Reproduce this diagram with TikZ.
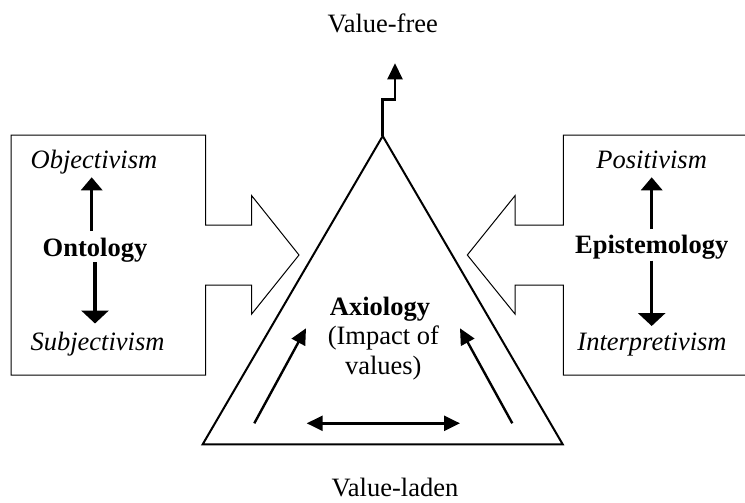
\documentclass[tikz,border=0pt]{standalone}
\usepackage{fontspec}
\setmainfont{Liberation Serif}
\usetikzlibrary{arrows.meta}
\begin{document}
\begin{tikzpicture}[x=1pt,y=-1pt,
  txt/.style={anchor=base,inner sep=0pt,font=\fontsize{26.5}{30}\selectfont},
  panel/.style={draw=black,line width=1pt,line join=miter},
  tri/.style={draw=black,line width=2pt,line join=miter},
  thick arrow/.style={line width=3.3pt,-{Triangle[width=21pt,length=13pt]}},
  inner arrow/.style={line width=2.4pt,-{Triangle[width=15pt,length=16pt]}},
  both arrow/.style={line width=2.4pt,{Triangle[width=15pt,length=16pt]}-{Triangle[width=15pt,length=16pt]}}]
\useasboundingbox (0,0) rectangle (745,503);

% left panel with notched arrow pointing right
\draw[panel] (205.7,225) -- (205.7,135) -- (11,135) -- (11,375) -- (205.7,375) -- (205.7,285)
  -- (251.7,285) -- (251.7,314) -- (299,255) -- (251.7,195.7) -- (251.7,225) -- cycle;

% right panel with notched arrow pointing left (open at the page edge)
\draw[panel] (745,135) -- (563.3,135) -- (563.3,225) -- (515,225) -- (515,195.7) -- (467.3,255)
  -- (515,314) -- (515,285) -- (563.3,285) -- (563.3,375) -- (745,375);

% triangle
\coordinate (apex) at (382.7,136);
\coordinate (bl) at (202.7,444.3);
\coordinate (br) at (562.7,444.3);
\draw[tri] (apex) -- (bl) -- (br) -- cycle;

% stepped arrow towards the top label
\coordinate (stepA) at (382.7,99.3);
\coordinate (stepB) at (395,99.3);
\coordinate (topTip) at (395,63.3);
\draw[line width=2.5pt,line join=miter,-{Triangle[width=15pt,length=16pt]}]
  (apex) -- (stepA) -- (stepB) -- (topTip);

% labels
\node[txt] (vfree) at (382.7,33) {Value-free};
\node[txt] (vladen) at (395,496) {Value-laden};

\node[txt] (obj) at (94,168.3) {\itshape Objectivism};
\node[txt] (ont) at (95,256) {\bfseries Ontology};
\node[txt] (subj) at (97.5,350) {\itshape Subjectivism};

\node[txt] (pos) at (651.7,168.3) {\itshape Positivism};
\node[txt] (epi) at (651.7,253.5) {\bfseries Epistemology};
\node[txt] (interp) at (652,350) {\itshape Interpretivism};

\node[txt] (axi) at (380,315) {\bfseries Axiology};
\node[txt] (imp) at (383.3,344.5) {(Impact of};
\node[txt] (val) at (383.3,374.5) {values)};

% vertical arrows in the panels
\coordinate (ontUpS) at (91.7,231);
\coordinate (ontUpT) at (91.7,177.3);
\coordinate (ontDnS) at (95,262.3);
\coordinate (ontDnT) at (95,323.5);
\draw[thick arrow] (ontUpS) -- (ontUpT);
\draw[thick arrow,-{Triangle[width=27pt,length=13pt]}] (ontDnS) -- (ontDnT);

\coordinate (epiUpS) at (651.7,229);
\coordinate (epiUpT) at (651.7,177.3);
\coordinate (epiDnS) at (651.7,260.7);
\coordinate (epiDnT) at (651.7,326);
\draw[thick arrow] (epiUpS) -- (epiUpT);
\draw[thick arrow,-{Triangle[width=27pt,length=13pt]}] (epiDnS) -- (epiDnT);

% arrows inside the triangle
\coordinate (inL0) at (254.3,423.3);
\coordinate (inL1) at (306,328.3);
\coordinate (inR0) at (512.3,423.3);
\coordinate (inR1) at (460,328.3);
\coordinate (hL) at (306.7,423.3);
\coordinate (hR) at (460,423.3);
\draw[inner arrow] (inL0) -- (inL1);
\draw[inner arrow] (inR0) -- (inR1);
\draw[both arrow] (hL) -- (hR);
\end{tikzpicture}
\end{document}
